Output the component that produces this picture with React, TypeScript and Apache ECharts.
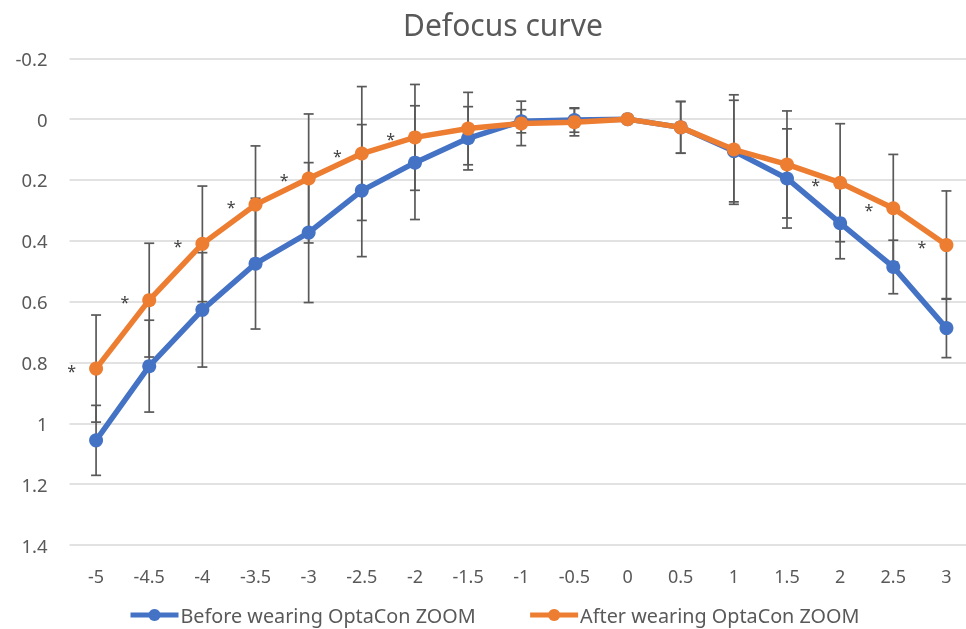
import React, { useEffect, useRef } from "react";
import * as echarts from "echarts";

const categories = ["-5", "-4.5", "-4", "-3.5", "-3", "-2.5", "-2", "-1.5", "-1", "-0.5", "0", "0.5", "1", "1.5", "2", "2.5", "3"];
const beforeValues = [1.056, 0.812, 0.627, 0.475, 0.373, 0.235, 0.143, 0.063, 0.007, 0.003, 0, 0.027, 0.105, 0.195, 0.342, 0.486, 0.687];
const beforeErrors = [0.115, 0.151, 0.188, 0.215, 0.23, 0.217, 0.187, 0.104, 0.038, 0.04, 0, 0.085, 0.167, 0.163, 0.117, 0.088, 0.097];
const afterValues = [0.82, 0.595, 0.41, 0.281, 0.195, 0.113, 0.06, 0.031, 0.014, 0.01, 0, 0.027, 0.1, 0.149, 0.209, 0.293, 0.414];
const afterErrors = [0.176, 0.187, 0.19, 0.193, 0.212, 0.22, 0.174, 0.119, 0.073, 0.045, 0, 0.085, 0.18, 0.176, 0.194, 0.177, 0.178];
const significant = ["-5", "-4.5", "-4", "-3.5", "-3", "-2.5", "-2", "2", "2.5", "3"];

const FONT = "'Noto Sans', sans-serif";
const GRAY = "#595959";

function errorSeries(name: string, values: number[], errors: number[]) {
  return {
    type: "custom",
    name: name + " err",
    z: 1,
    silent: true,
    data: values.map((v, i) => [i, v - errors[i], v + errors[i], errors[i]]),
    renderItem: (params: any, api: any) => {
      const err = api.value(3);
      if (!err) return null;
      const idx = api.value(0);
      const top = api.coord([idx, api.value(1)]);
      const bot = api.coord([idx, api.value(2)]);
      const hw = 5;
      const style = { stroke: GRAY, lineWidth: 1.7 };
      return {
        type: "group",
        children: [
          { type: "line", shape: { x1: top[0], y1: top[1], x2: bot[0], y2: bot[1] }, style },
          { type: "line", shape: { x1: top[0] - hw, y1: top[1], x2: top[0] + hw, y2: top[1] }, style },
          { type: "line", shape: { x1: bot[0] - hw, y1: bot[1], x2: bot[0] + hw, y2: bot[1] }, style },
        ],
      };
    },
  };
}

export default function App() {
  const ref = useRef<HTMLDivElement>(null);
  useEffect(() => {
    if (!ref.current) return;
    const chart = echarts.init(ref.current, null, { renderer: "svg" });
    chart.setOption({
      animation: false,
      title: {
        text: "Defocus curve",
        left: 398,
        top: 4,
        textStyle: { fontFamily: FONT, fontSize: 30, fontWeight: "normal", color: GRAY },
      },
      legend: {
        data: ["Before wearing OptaCon ZOOM", "After wearing OptaCon ZOOM"],
        left: 128,
        top: 605,
        padding: 0,
        itemWidth: 48,
        itemHeight: 15,
        itemGap: 52,
        lineStyle: { width: 5 },
        textStyle: { fontFamily: FONT, fontSize: 19.8, color: GRAY, padding: [0, 0, 0, -3] },
      },
      grid: { left: 69.5, right: 0, top: 58.3, bottom: 84, containLabel: false },
      xAxis: {
        type: "category",
        data: categories,
        boundaryGap: true,
        axisLine: { show: false },
        axisTick: { show: false },
        axisLabel: { fontFamily: FONT, fontSize: 18, color: GRAY, margin: 22 },
      },
      yAxis: {
        type: "value",
        inverse: true,
        min: -0.2,
        max: 1.4,
        interval: 0.2,
        axisLine: { show: false },
        axisTick: { show: false },
        axisLabel: {
          fontFamily: FONT,
          fontSize: 18.5,
          color: GRAY,
          margin: 22,
          formatter: (v: number) => String(Math.round(v * 10) / 10),
        },
        splitLine: { lineStyle: { color: "#d9d9d9", width: 1.5 } },
      },
      series: [
        errorSeries("before", beforeValues, beforeErrors),
        errorSeries("after", afterValues, afterErrors),
        {
          type: "line",
          name: "Before wearing OptaCon ZOOM",
          data: beforeValues,
          z: 2,
          symbol: "circle",
          symbolSize: 14,
          color: "#4472C4",
          lineStyle: { width: 5.5, color: "#4472C4" },
          itemStyle: { color: "#4472C4" },
        },
        {
          type: "line",
          name: "After wearing OptaCon ZOOM",
          z: 3,
          data: afterValues.map((v, i) => ({
            value: v,
            label: {
              show: significant.includes(categories[i]),
              position: "left",
              distance: 13,
              offset: [0, 2],
              formatter: "*",
              fontFamily: FONT,
              fontSize: 16,
              color: "#404040",
            },
          })),
          symbol: "circle",
          symbolSize: 14,
          color: "#ED7D31",
          lineStyle: { width: 5.5, color: "#ED7D31" },
          itemStyle: { color: "#ED7D31" },
        },
      ],
    });
    return () => chart.dispose();
  }, []);
  return <div ref={ref} style={{ position: "fixed", left: 0, top: 0, width: 973, height: 629 }} />;
}
